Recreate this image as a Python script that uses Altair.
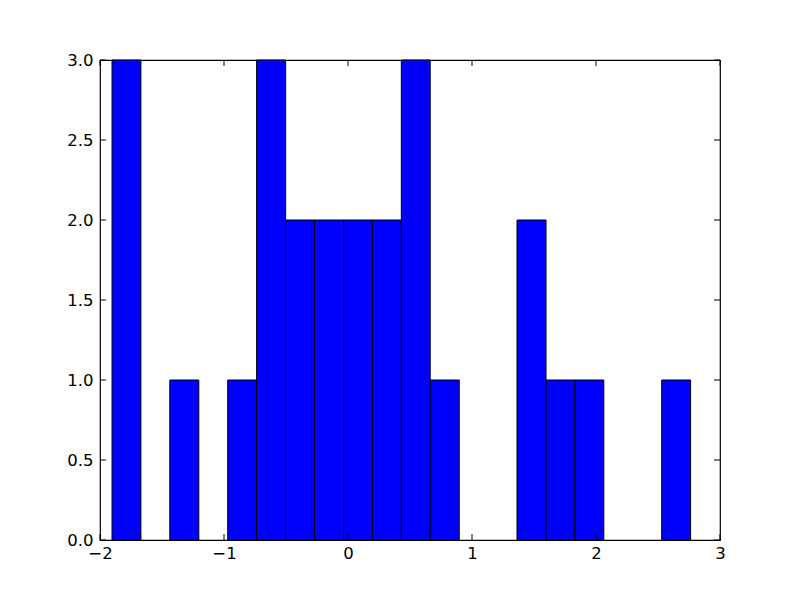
import altair as alt
import pandas as pd

# Histogram data
bin_left = [-1.903, -1.670, -1.437, -1.203, -0.970, -0.737, -0.503, -0.270, -0.037, 0.197,
            0.430, 0.663, 0.897, 1.130, 1.363, 1.597, 1.830, 2.063, 2.297, 2.530]
bin_right = [-1.670, -1.437, -1.203, -0.970, -0.737, -0.503, -0.270, -0.037, 0.197, 0.430,
             0.663, 0.897, 1.130, 1.363, 1.597, 1.830, 2.063, 2.297, 2.530, 2.763]
counts = [3, 0, 1, 0, 1, 3, 2, 2, 2, 2, 3, 1, 0, 0, 2, 1, 1, 0, 0, 1]

x_ticks = [-2, -1, 0, 1, 2, 3]
y_ticks = [0.0, 0.5, 1.0, 1.5, 2.0, 2.5, 3.0]

bars_df = pd.DataFrame({"left": bin_left, "right": bin_right, "count": counts})
bars_df = bars_df[bars_df["count"] > 0]
xt_df = pd.DataFrame({"v": x_ticks})
yt_df = pd.DataFrame({"v": y_ticks})

FONT = "DejaVu Sans"
W, H = 620, 480
TL = 6

xscale = alt.Scale(domain=[-2, 3], nice=False, zero=False)
yscale = alt.Scale(domain=[0, 3], nice=False, zero=False)

bars = alt.Chart(bars_df).mark_rect(
    fill="#0000ff", stroke="black", strokeWidth=1
).encode(
    x=alt.X("left:Q", scale=xscale, title=None,
            axis=alt.Axis(values=x_ticks, format="d", domain=False, ticks=False,
                          grid=False, labelFont=FONT, labelFontSize=16.5,
                          labelColor="black", labelPadding=5, labelFlush=False)),
    x2="right:Q",
    y=alt.Y("count:Q", scale=yscale, title=None,
            axis=alt.Axis(values=y_ticks, format=".1f", domain=False, ticks=False,
                          grid=False, labelFont=FONT, labelFontSize=16.5,
                          labelColor="black", labelPadding=7, labelFlush=False)),
    y2=alt.datum(0),
)

xt_bottom = alt.Chart(xt_df).mark_rule(color="black", strokeWidth=1).encode(
    x=alt.X("v:Q", scale=xscale), y=alt.value(H), y2=alt.value(H - TL))
xt_top = alt.Chart(xt_df).mark_rule(color="black", strokeWidth=1).encode(
    x=alt.X("v:Q", scale=xscale), y=alt.value(0), y2=alt.value(TL))
yt_left = alt.Chart(yt_df).mark_rule(color="black", strokeWidth=1).encode(
    y=alt.Y("v:Q", scale=yscale), x=alt.value(0), x2=alt.value(TL))
yt_right = alt.Chart(yt_df).mark_rule(color="black", strokeWidth=1).encode(
    y=alt.Y("v:Q", scale=yscale), x=alt.value(W), x2=alt.value(W - TL))

chart = alt.layer(bars, xt_bottom, xt_top, yt_left, yt_right).properties(
    width=W, height=H,
    autosize=alt.AutoSizeParams(type="none"),
    padding={"left": 92, "top": 52, "right": 72, "bottom": 52},
).configure(
    background="white",
    view=alt.ViewConfig(stroke="black", strokeWidth=1.2),
)

chart.save("out.html", embed_options={"renderer": "svg", "actions": False})
